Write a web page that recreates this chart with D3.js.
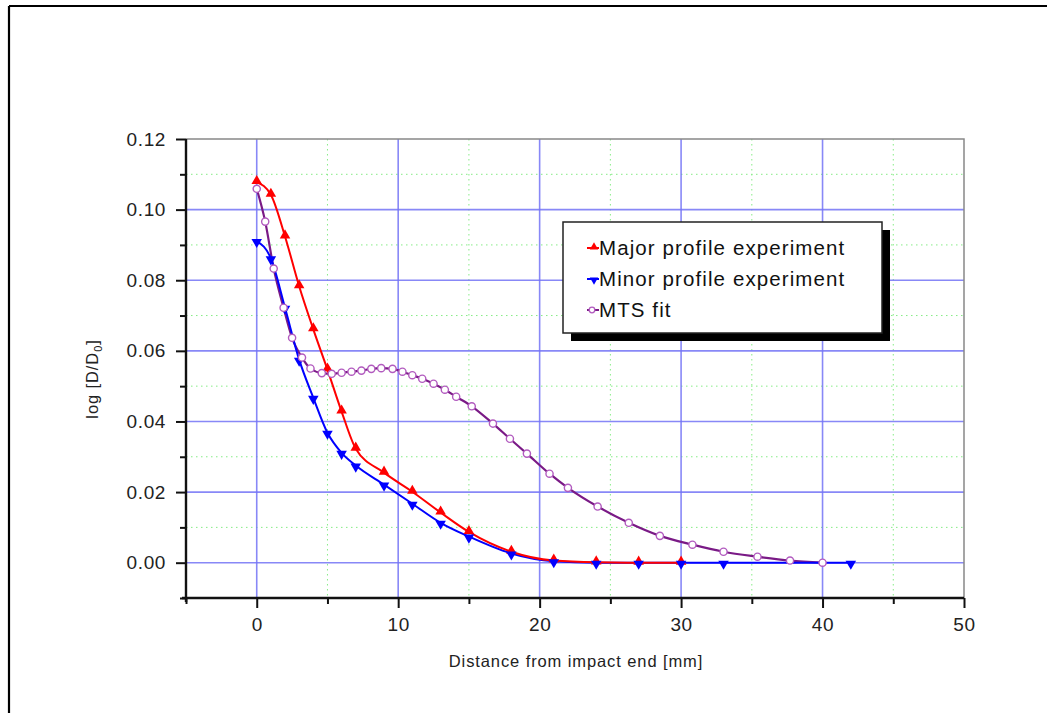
<!DOCTYPE html>
<html>
<head>
<meta charset="utf-8">
<script src="https://cdn.jsdelivr.net/npm/d3@7"></script>
<style>
  html, body { margin: 0; padding: 0; background: #fff; }
  svg { display: block; font-family: "Liberation Sans", Arial, sans-serif; }
</style>
</head>
<body>
<svg id="chart" width="1047" height="713"></svg>
<script>
// Major profile (measured)
const majorX = [0, 1, 2, 3, 4, 5, 6, 7, 9, 11, 13, 15, 18, 21, 24, 27, 30];
const majorY = [0.1078, 0.1042, 0.0924, 0.0783, 0.0661, 0.0547, 0.0428, 0.0323, 0.0255, 0.0201, 0.0142, 0.0087, 0.0031, 0.0006, 0.0001, 0.0000, 0.0000];

// Minor profile (measured)
const minorX = [0, 1, 2, 3, 4, 5, 6, 7, 9, 11, 13, 15, 18, 21, 24, 27, 30, 33, 42];
const minorY = [0.0911, 0.0862, 0.0722, 0.0575, 0.0467, 0.0368, 0.0311, 0.0275, 0.0221, 0.0167, 0.0113, 0.0074, 0.0026, 0.0004, 0.0000, 0.0000, 0.0000, 0.0000, 0.0000];

// MTS model fit
const mtsX = [0, 0.6, 1.2, 1.9, 2.5, 3.2, 3.8, 4.6, 5.3, 6.0, 6.7, 7.4, 8.1, 8.8, 9.6, 10.3, 11.0, 11.7, 12.5, 13.3, 14.1, 15.2, 16.7, 17.9, 19.1, 20.7, 22.0, 24.1, 26.3, 28.5, 30.8, 33.0, 35.4, 37.7, 40.0];
const mtsY = [0.1059, 0.0966, 0.0833, 0.0722, 0.0637, 0.0581, 0.0550, 0.0537, 0.0535, 0.0538, 0.0541, 0.0544, 0.0549, 0.0551, 0.0549, 0.0541, 0.0531, 0.0521, 0.0507, 0.0490, 0.0470, 0.0443, 0.0394, 0.0351, 0.0309, 0.0252, 0.0212, 0.0159, 0.0113, 0.0076, 0.0051, 0.0031, 0.0017, 0.0006, 0.0000];

const xMajorTicks = [0, 10, 20, 30, 40, 50];
const xMinorTicks = [-5, 5, 15, 25, 35, 45];
const yMajorTicks = [0.00, 0.02, 0.04, 0.06, 0.08, 0.10, 0.12];
const yMinorTicks = [-0.01, 0.01, 0.03, 0.05, 0.07, 0.09, 0.11];

const legendLabels = ["Major profile experiment", "Minor profile experiment", "MTS fit"];
const xTitle = "Distance from impact end [mm]";

const svg = d3.select("#chart");
const W = 1047, H = 713;

// page frame (top and left edges)
svg.append("line").attr("x1", 9).attr("x2", W).attr("y1", 6).attr("y2", 6)
  .attr("stroke", "#000").attr("stroke-width", 2.2);
svg.append("line").attr("x1", 9).attr("x2", 9).attr("y1", 6).attr("y2", H)
  .attr("stroke", "#000").attr("stroke-width", 2.2);

const plot = { left: 186, right: 964, top: 139, bottom: 598 };
const x = d3.scaleLinear().domain([-5, 50]).range([plot.left, plot.right]);
const y = d3.scaleLinear().domain([-0.01, 0.12]).range([plot.bottom, plot.top]);

// minor grid: green dotted
const g = svg.append("g");
g.selectAll(".vminor").data(xMinorTicks.filter(d => d > -5)).join("line")
  .attr("x1", d => x(d)).attr("x2", d => x(d))
  .attr("y1", plot.top).attr("y2", plot.bottom)
  .attr("stroke", "#86ec86").attr("stroke-width", 1).attr("stroke-dasharray", "1.5,3.5");
g.selectAll(".hminor").data(yMinorTicks.filter(d => d > -0.01)).join("line")
  .attr("x1", plot.left).attr("x2", plot.right)
  .attr("y1", d => y(d)).attr("y2", d => y(d))
  .attr("stroke", "#86ec86").attr("stroke-width", 1).attr("stroke-dasharray", "1.5,3.5");

// major grid: blue
g.selectAll(".vmajor").data(xMajorTicks.filter(d => d < 50)).join("line")
  .attr("x1", d => x(d)).attr("x2", d => x(d))
  .attr("y1", plot.top).attr("y2", plot.bottom)
  .attr("stroke", "#7474f6").attr("stroke-width", 1.6).attr("opacity", 0.85);
g.selectAll(".hmajor").data(yMajorTicks.filter(d => d < 0.12)).join("line")
  .attr("x1", plot.left).attr("x2", plot.right)
  .attr("y1", d => y(d)).attr("y2", d => y(d))
  .attr("stroke", "#7474f6").attr("stroke-width", 1.6).attr("opacity", 0.85);

// plot frame top/right (grey)
svg.append("path")
  .attr("d", `M${plot.left},${plot.top}H${plot.right}V${plot.bottom}`)
  .attr("fill", "none").attr("stroke", "#888").attr("stroke-width", 1.5);

// axes
const xAxis = d3.axisBottom(x).tickValues(xMajorTicks).tickSize(10).tickPadding(10)
  .tickFormat(d3.format("d"));
svg.append("g").attr("class", "xaxis").attr("transform", `translate(0,${plot.bottom})`).call(xAxis);
const xMinorAxis = d3.axisBottom(x).tickValues(xMinorTicks).tickSize(6).tickFormat("");
svg.append("g").attr("transform", `translate(0,${plot.bottom})`).call(xMinorAxis)
  .call(a => a.select(".domain").remove());

const yAxis = d3.axisLeft(y).tickValues(yMajorTicks).tickSize(10).tickPadding(10)
  .tickFormat(d3.format(".2f"));
svg.append("g").attr("class", "yaxis").attr("transform", `translate(${plot.left},0)`).call(yAxis);
const yMinorAxis = d3.axisLeft(y).tickValues(yMinorTicks).tickSize(6).tickFormat("");
svg.append("g").attr("transform", `translate(${plot.left},0)`).call(yMinorAxis)
  .call(a => a.select(".domain").remove());

// axis lines run slightly past the corner
svg.selectAll(".domain").remove();
svg.append("line").attr("x1", plot.left - 4).attr("x2", plot.right)
  .attr("y1", plot.bottom).attr("y2", plot.bottom).attr("stroke", "#111").attr("stroke-width", 2.4);
svg.append("line").attr("x1", plot.left).attr("x2", plot.left)
  .attr("y1", plot.top).attr("y2", plot.bottom + 4).attr("stroke", "#111").attr("stroke-width", 2.4);

svg.selectAll(".tick line").attr("stroke", "#111").attr("stroke-width", 2);
svg.selectAll(".tick text").attr("fill", "#222").style("font-size", "19px")
  .style("letter-spacing", "0.6px")
  .style("font-family", "'Liberation Sans', Arial, sans-serif");

// axis titles
svg.append("text").attr("x", 576).attr("y", 667).attr("text-anchor", "middle")
  .style("font-size", "16.5px").style("letter-spacing", "0.9px").attr("fill", "#222").text(xTitle);
const yt = svg.append("text").attr("transform", "translate(98,379) rotate(-90)")
  .attr("text-anchor", "middle").style("font-size", "16.5px").style("letter-spacing", "0.9px")
  .attr("fill", "#222");
yt.append("tspan").text("log [D/D");
yt.append("tspan").attr("dy", 4).style("font-size", "11px").text("0");
yt.append("tspan").attr("dy", -4).text("]");

// series
const line = d3.line().x(d => x(d[0])).y(d => y(d[1])).curve(d3.curveMonotoneX);
const majorData = majorX.map((v, i) => [v, majorY[i]]);
const minorData = minorX.map((v, i) => [v, minorY[i]]);
const mtsData = mtsX.map((v, i) => [v, mtsY[i]]);

const tri = d3.symbol().type(d3.symbolTriangle).size(48);

const series = svg.append("g");
series.append("path").datum(mtsData).attr("d", line)
  .attr("fill", "none").attr("stroke", "#7a1a86").attr("stroke-width", 2.2);
series.append("path").datum(minorData).attr("d", line)
  .attr("fill", "none").attr("stroke", "#0000ff").attr("stroke-width", 2);
series.append("path").datum(majorData).attr("d", line)
  .attr("fill", "none").attr("stroke", "#ff0000").attr("stroke-width", 2);

series.selectAll(".mj").data(majorData).join("path")
  .attr("d", tri).attr("transform", d => `translate(${x(d[0])},${y(d[1]) - 1})`)
  .attr("fill", "#ff0000");
series.selectAll(".mn").data(minorData).join("path")
  .attr("d", tri).attr("transform", d => `translate(${x(d[0])},${y(d[1]) + 1}) rotate(180)`)
  .attr("fill", "#0000ff");
series.selectAll(".mt").data(mtsData).join("circle")
  .attr("cx", d => x(d[0])).attr("cy", d => y(d[1])).attr("r", 3.6)
  .attr("fill", "#fff").attr("stroke", "#b25bbf").attr("stroke-width", 1.4);

// legend
const L = { x: 563, y: 222, w: 319, h: 111 };
const leg = svg.append("g");
leg.append("rect").attr("x", L.x + 8).attr("y", L.y + 8).attr("width", L.w).attr("height", L.h)
  .attr("fill", "#000");
leg.append("rect").attr("x", L.x).attr("y", L.y).attr("width", L.w).attr("height", L.h)
  .attr("fill", "#fff").attr("stroke", "#222").attr("stroke-width", 1.5);

const legColors = ["#ff0000", "#0000ff", "#7a1a86"];
const legBase = [255, 286, 317];
legendLabels.forEach((t, i) => {
  const cy = legBase[i] - 7;
  leg.append("line").attr("x1", 587).attr("x2", 599).attr("y1", cy).attr("y2", cy)
    .attr("stroke", legColors[i]).attr("stroke-width", 2);
  if (i === 0) {
    leg.append("path").attr("d", d3.symbol().type(d3.symbolTriangle).size(30))
      .attr("transform", `translate(594,${cy - 1})`).attr("fill", "#ff0000");
  } else if (i === 1) {
    leg.append("path").attr("d", d3.symbol().type(d3.symbolTriangle).size(30))
      .attr("transform", `translate(594,${cy + 1}) rotate(180)`).attr("fill", "#0000ff");
  } else {
    leg.append("circle").attr("cx", 592).attr("cy", cy).attr("r", 2.8)
      .attr("fill", "#fff").attr("stroke", "#b25bbf").attr("stroke-width", 1.3);
  }
  leg.append("text").attr("x", 599).attr("y", legBase[i])
    .style("font-size", "20.5px").style("letter-spacing", "1.1px")
    .attr("fill", "#111").text(t);
});
</script>
</body>
</html>
